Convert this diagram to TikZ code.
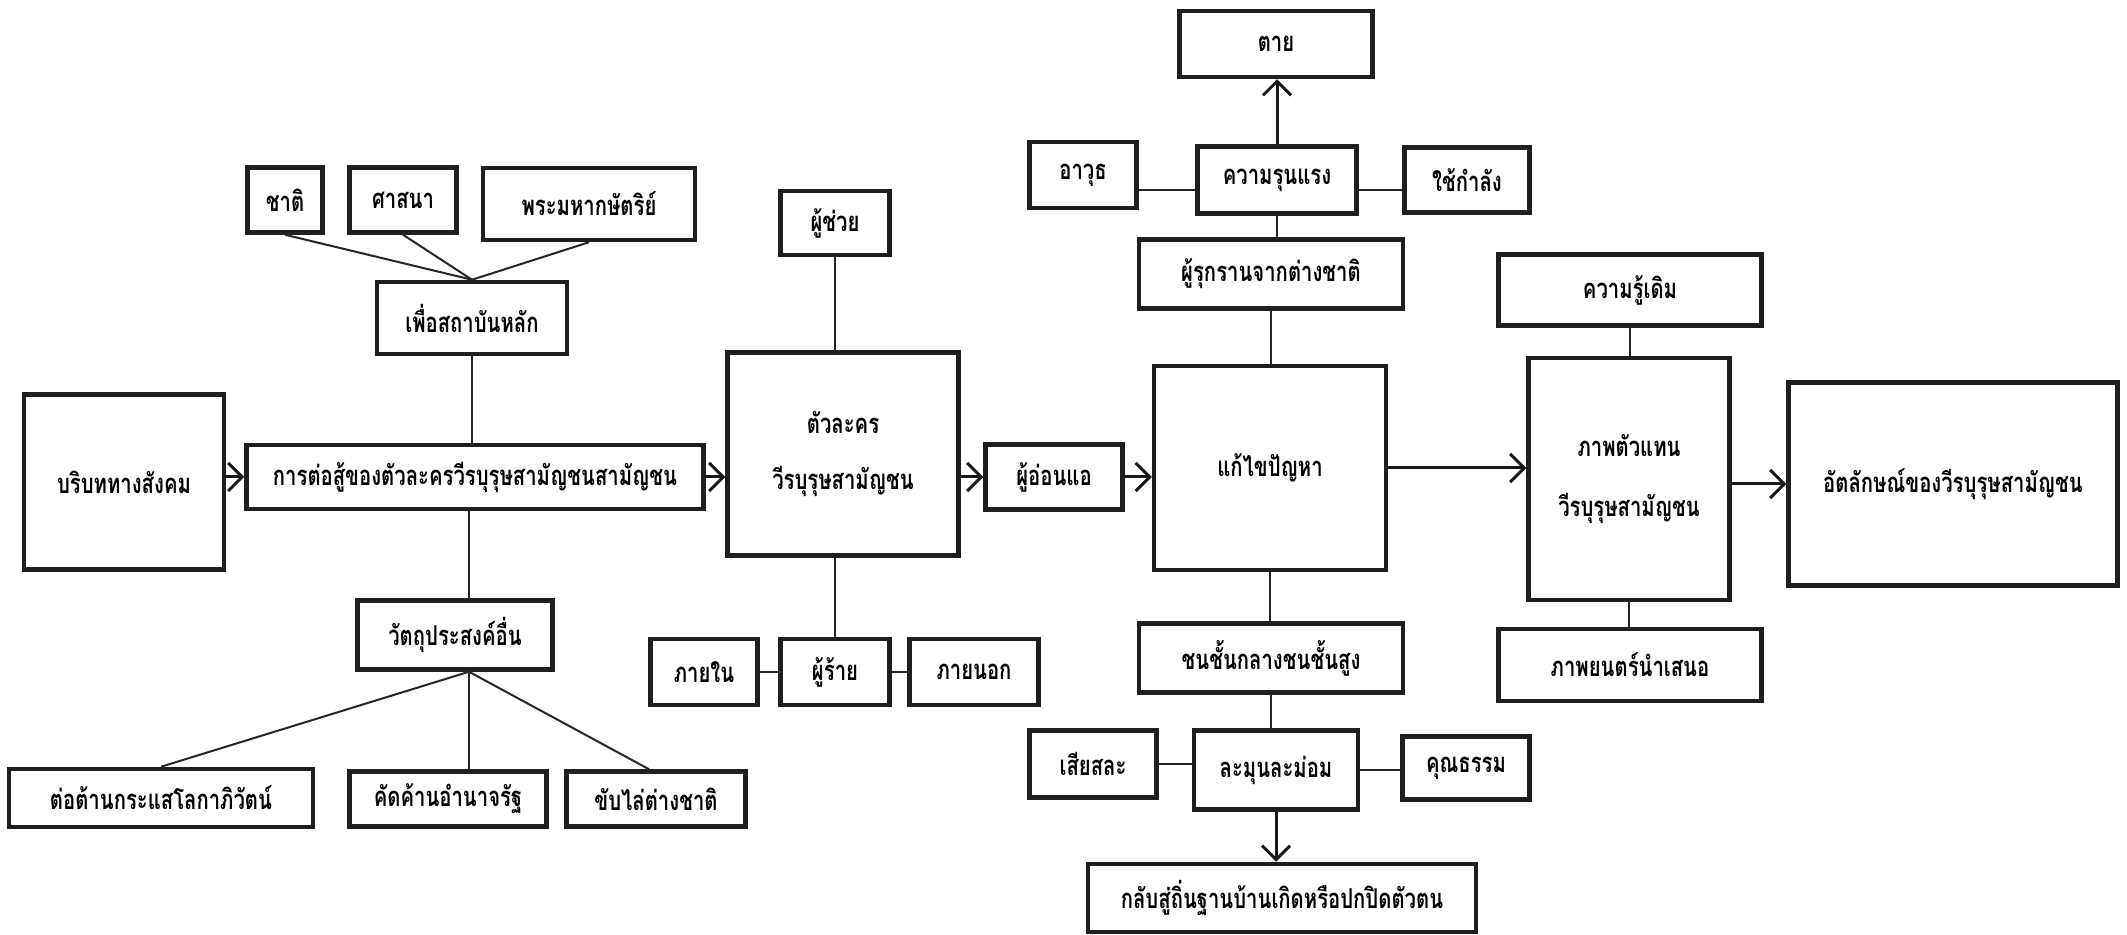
\documentclass[tikz,border=0pt]{standalone}
\usepackage{fontspec}
\newfontfamily\thaifont[Script=Thai,FakeStretch=0.74]{Loma}
\usetikzlibrary{arrows.meta}

\begin{document}
\begin{tikzpicture}[
  x=0.1mm, y=-0.1mm,
  box/.style={draw=black!88, line width=0.45mm, fill=white, align=center,
              font=\thaifont\bfseries\fontsize{7.8}{9.5}\selectfont, inner sep=1pt},
  link/.style={line width=0.2mm, draw=black!85},
  flow/.style={line width=0.3mm, draw=black!90,
               -{Straight Barb[length=1.4mm,width=2.8mm]}},
]
\useasboundingbox (0,0) rectangle (2127,935);

\node[box, minimum width=7.5mm,  minimum height=6.5mm] (chat) at (285,200) {ชาติ};
\node[box, minimum width=10.7mm, minimum height=6.5mm] (religion) at (403,200) {ศาสนา};
\node[box, minimum width=21.2mm, minimum height=7.2mm] (king) at (589,204) {พระมหากษัตริย์};
\node[box, minimum width=19mm,   minimum height=7.2mm] (institution) at (472,318) {เพื่อสถาบันหลัก};
\node[box, minimum width=20mm,   minimum height=17.5mm] (context) at (124,482) {บริบททางสังคม};
\node[box, minimum width=45.7mm, minimum height=6.4mm] (struggle) at (475,477) {การต่อสู้ของตัวละครวีรบุรุษสามัญชนสามัญชน};
\node[box, minimum width=19.5mm, minimum height=6.9mm] (purpose) at (455,635) {วัตถุประสงค์อื่น};
\node[box, minimum width=30.4mm, minimum height=5.8mm] (antiglobal) at (161,798) {ต่อต้านกระแสโลกาภิวัตน์};
\node[box, minimum width=19.7mm, minimum height=5.5mm] (antistate) at (448,799) {คัดค้านอำนาจรัฐ};
\node[box, minimum width=17.9mm, minimum height=5.5mm] (expel) at (656,799) {ขับไล่ต่างชาติ};

\node[box, minimum width=10.9mm, minimum height=6.4mm] (helper) at (835,223) {ผู้ช่วย};
\node[box, minimum width=23.1mm, minimum height=20.3mm] (hero) at (843,454) {ตัวละคร\\[2.2mm]วีรบุรุษสามัญชน};
\node[box, minimum width=13.7mm, minimum height=6.5mm] (weak) at (1054,477) {ผู้อ่อนแอ};
\node[box, minimum width=10.7mm, minimum height=6.6mm] (inner) at (704,672) {ภายใน};
\node[box, minimum width=10.9mm, minimum height=6.6mm] (villain) at (835,672) {ผู้ร้าย};
\node[box, minimum width=12.9mm, minimum height=6.6mm] (outer) at (974,672) {ภายนอก};

\node[box, minimum width=19.3mm, minimum height=6.6mm] (death) at (1276,44) {ตาย};
\node[box, minimum width=10.7mm, minimum height=6.6mm] (weapon) at (1083,175) {อาวุธ};
\node[box, minimum width=15.9mm, minimum height=6.7mm] (violence) at (1277,180) {ความรุนแรง};
\node[box, minimum width=12.5mm, minimum height=6.5mm] (force) at (1467,180) {ใช้กำลัง};
\node[box, minimum width=26.4mm, minimum height=6.9mm] (invader) at (1271,274) {ผู้รุกรานจากต่างชาติ};
\node[box, minimum width=23.2mm, minimum height=20.4mm] (solve) at (1270,468) {แก้ไขปัญหา};
\node[box, minimum width=26.4mm, minimum height=6.9mm] (upper) at (1271,658) {ชนชั้นกลางชนชั้นสูง};
\node[box, minimum width=12.7mm, minimum height=6.7mm] (sacrifice) at (1093,764) {เสียสละ};
\node[box, minimum width=16.4mm, minimum height=7.9mm] (gentle) at (1276,770) {ละมุนละม่อม};
\node[box, minimum width=12.7mm, minimum height=6.3mm] (virtue) at (1466,768) {คุณธรรม};
\node[box, minimum width=38.8mm, minimum height=6.8mm] (homeland) at (1282,898) {กลับสู่ถิ่นฐานบ้านเกิดหรือปกปิดตัวตน};

\node[box, minimum width=26.3mm, minimum height=7.1mm] (knowledge) at (1630,290) {ความรู้เดิม};
\node[box, minimum width=20.1mm, minimum height=24.2mm] (image) at (1629,479) {ภาพตัวแทน\\[2.6mm]วีรบุรุษสามัญชน};
\node[box, minimum width=26.3mm, minimum height=7.2mm] (film) at (1630,665) {ภาพยนตร์นำเสนอ};
\node[box, minimum width=32.9mm, minimum height=20.3mm] (identity) at (1953,484) {อัตลักษณ์ของวีรบุรุษสามัญชน};

\draw[link] (chat.south) -- (institution.north);
\draw[link] (religion.south) -- (institution.north);
\draw[link] (king.south) -- (institution.north);
\draw[link] (institution.south) -- (institution.south |- struggle.north);
\draw[flow] (context.east |- struggle.west) -- (struggle.west);
\draw[flow] (struggle.east) -- (struggle.east -| hero.west);
\draw[link] ([xshift=1.4mm]purpose.north) -- ([xshift=1.4mm]purpose.north |- struggle.south);
\draw[link] ([xshift=1.4mm]purpose.south) -- (antiglobal.north);
\draw[link] ([xshift=1.4mm]purpose.south) -- ([xshift=1.4mm]purpose.south |- antistate.north);
\draw[link] ([xshift=1.4mm]purpose.south) -- ([xshift=-0.7mm]expel.north);

\draw[link] (helper.south) -- (helper.south |- hero.north);
\draw[link] (villain.north) -- (villain.north |- hero.south);
\draw[link] (inner.east) -- (villain.west);
\draw[link] (villain.east) -- (outer.west);
\draw[flow] (hero.east |- weak.west) -- (weak.west);
\draw[flow] (weak.east) -- (weak.east -| solve.west);

\draw[flow] (violence.north) -- (violence.north |- death.south);
\draw[link] ([yshift=-1mm]violence.west) -- ([yshift=-1mm]violence.west -| weapon.east);
\draw[link] ([yshift=-1mm]violence.east) -- ([yshift=-1mm]violence.east -| force.west);
\draw[link] (violence.south) -- (violence.south |- invader.north);
\draw[link] (invader.south) -- (invader.south |- solve.north);
\draw[link] (solve.south) -- (solve.south |- upper.north);
\draw[link] (upper.south) -- (upper.south |- gentle.north);
\draw[link] (sacrifice.east) -- (sacrifice.east -| gentle.west);
\draw[link] (gentle.east) -- (gentle.east -| virtue.west);
\draw[flow] (gentle.south) -- (gentle.south |- homeland.north);

\draw[flow] (solve.east) -- (solve.east -| image.west);
\draw[link] (knowledge.south) -- (knowledge.south |- image.north);
\draw[link] (image.south) -- (image.south |- film.north);
\draw[flow] (image.east |- identity.west) -- (identity.west);
\end{tikzpicture}
\end{document}
